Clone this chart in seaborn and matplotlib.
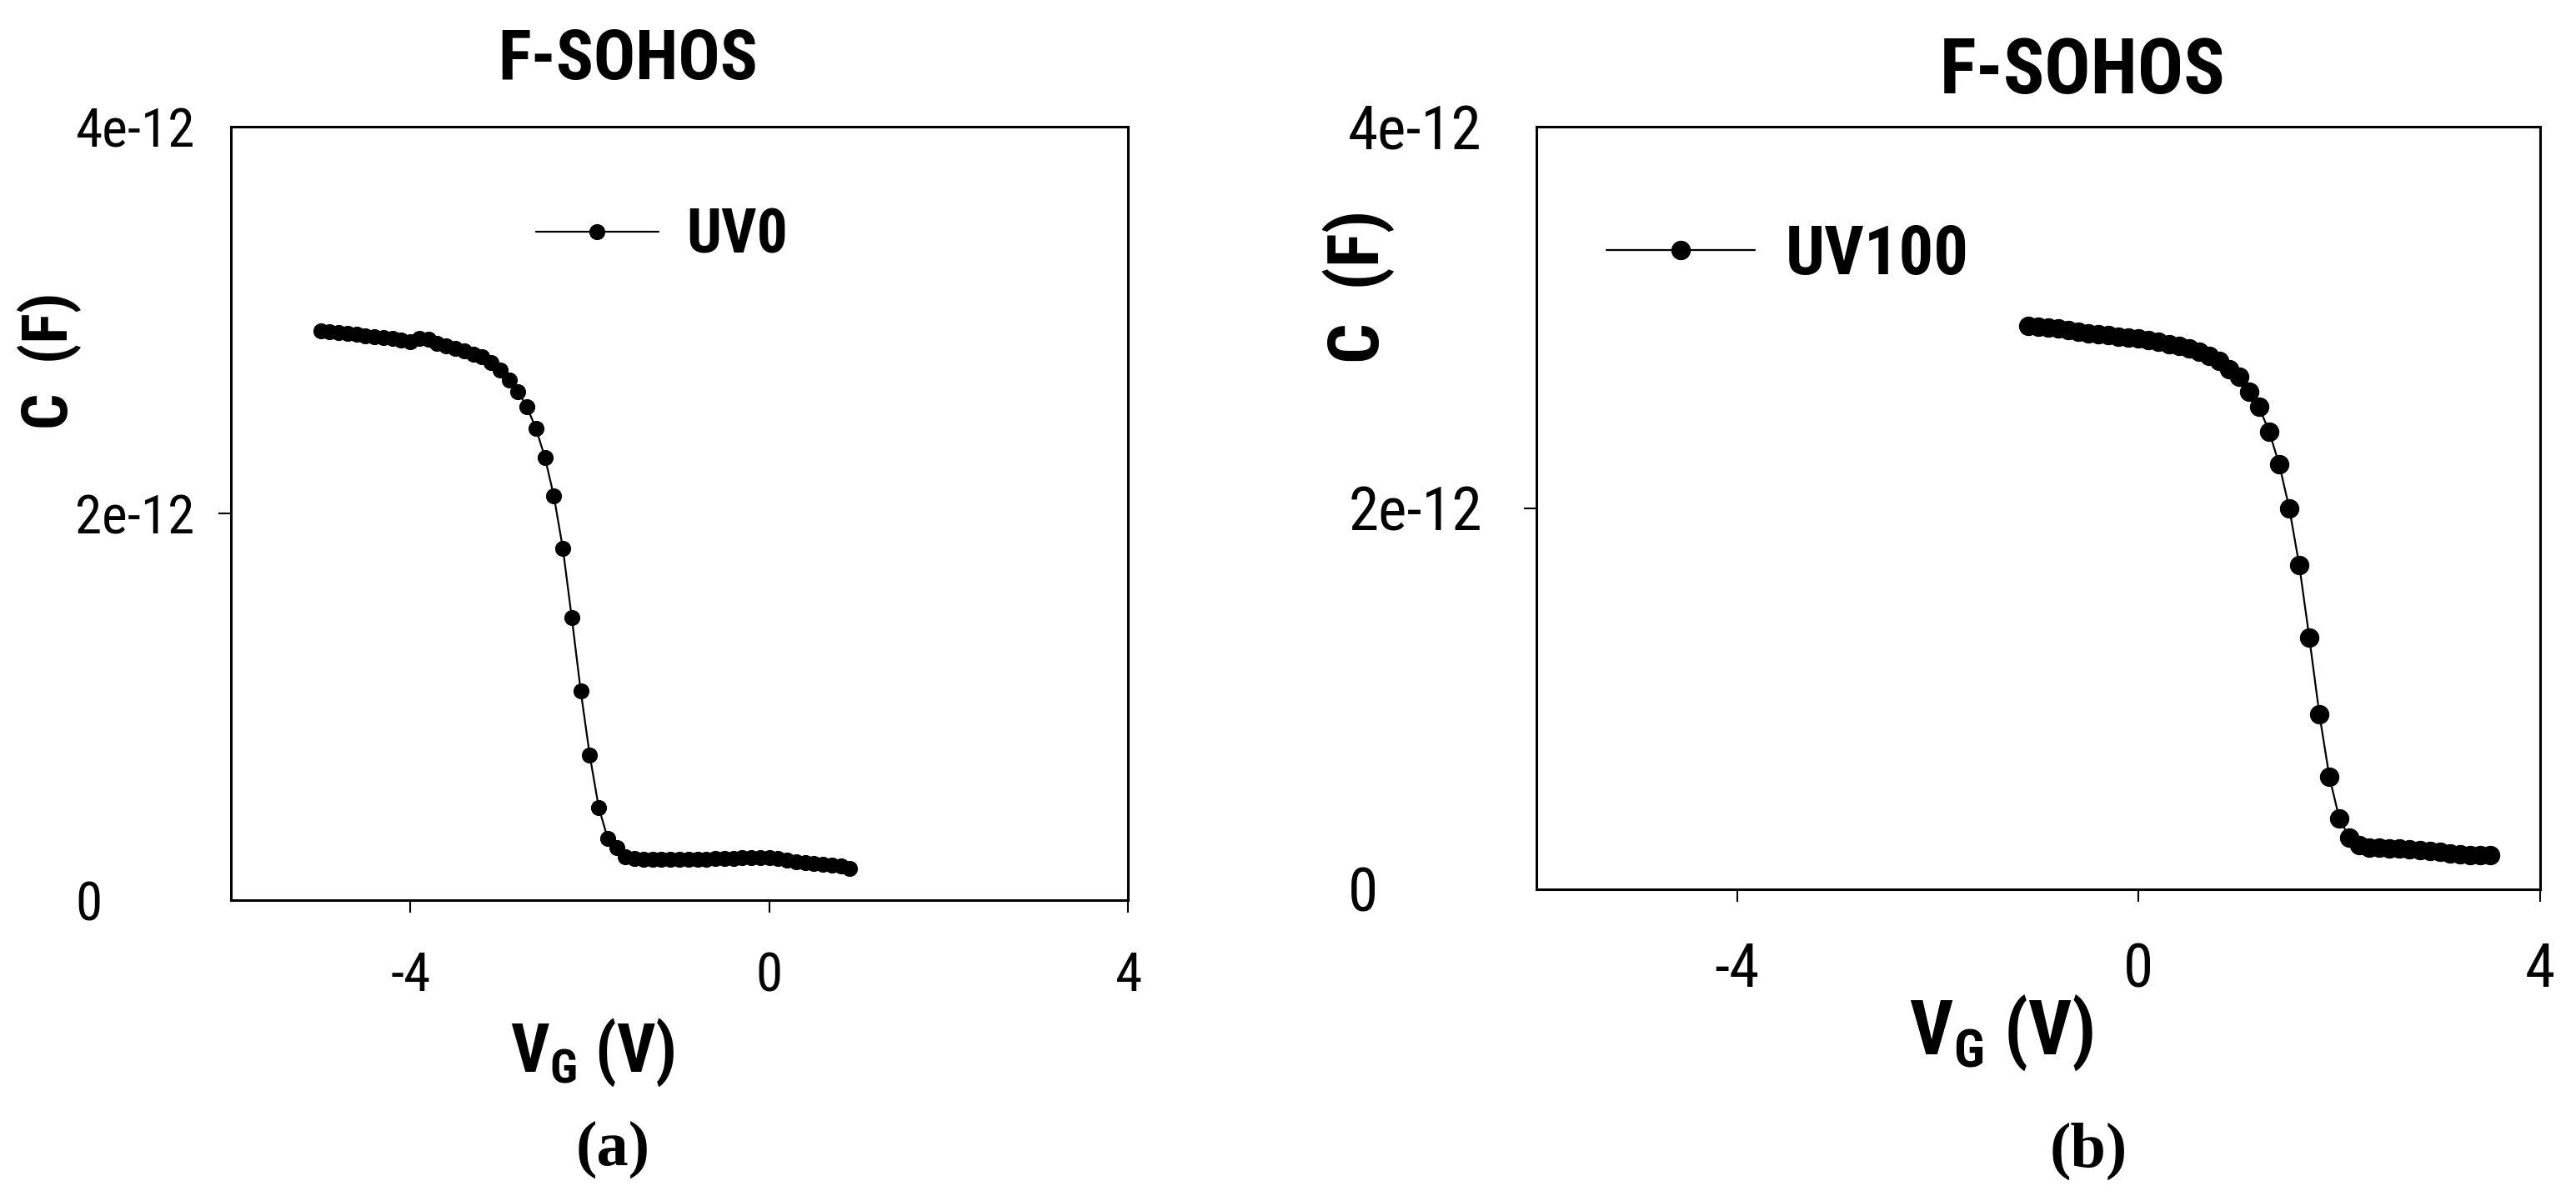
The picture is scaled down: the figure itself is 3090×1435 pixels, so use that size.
"""
C-V curves of the F-SOHOS capacitor before (UV0) and after (UV100) UV exposure.
"""

import matplotlib.pyplot as plt
import pandas as pd
import seaborn as sns
from matplotlib import font_manager

# Gate voltage (V) and capacitance (F)
VG_UV0 = [-5.0, -4.9, -4.8, -4.7, -4.6, -4.5, -4.4, -4.3, -4.2, -4.1,
          -4.0, -3.9, -3.8, -3.7, -3.6, -3.5, -3.4, -3.3, -3.2, -3.1,
          -3.0, -2.9, -2.8, -2.7, -2.6, -2.5, -2.4, -2.3, -2.2, -2.1,
          -2.0, -1.9, -1.8, -1.7, -1.6, -1.5, -1.4, -1.3, -1.2, -1.1,
          -1.0, -0.9, -0.8, -0.7, -0.6, -0.5, -0.4, -0.3, -0.2, -0.1,
          0.0, 0.1, 0.2, 0.3, 0.4, 0.5, 0.6, 0.7, 0.8, 0.9]
C_UV0 = [2.945, 2.940, 2.935, 2.930, 2.925, 2.920, 2.915, 2.910, 2.905, 2.895,
         2.890, 2.905, 2.900, 2.880, 2.865, 2.855, 2.840, 2.825, 2.810, 2.780,
         2.740, 2.690, 2.630, 2.550, 2.440, 2.290, 2.090, 1.820, 1.460, 1.080,
         0.750, 0.480, 0.320, 0.270, 0.225, 0.215, 0.210, 0.210, 0.210, 0.210,
         0.210, 0.210, 0.212, 0.212, 0.215, 0.215, 0.215, 0.218, 0.220, 0.220,
         0.220, 0.215, 0.205, 0.200, 0.192, 0.188, 0.185, 0.180, 0.175, 0.165]

VG_UV100 = [-1.1, -1.0, -0.9, -0.8, -0.7, -0.6, -0.5, -0.4, -0.3, -0.2,
            -0.1, 0.0, 0.1, 0.2, 0.3, 0.4, 0.5, 0.6, 0.7, 0.8,
            0.9, 1.0, 1.1, 1.2, 1.3, 1.4, 1.5, 1.6, 1.7, 1.8,
            1.9, 2.0, 2.1, 2.2, 2.3, 2.4, 2.5, 2.6, 2.7, 2.8,
            2.9, 3.0, 3.1, 3.2, 3.3, 3.4, 3.5]
C_UV100 = [2.955, 2.950, 2.945, 2.940, 2.935, 2.925, 2.915, 2.910, 2.905, 2.900,
           2.895, 2.890, 2.880, 2.870, 2.860, 2.850, 2.835, 2.820, 2.800, 2.770,
           2.730, 2.690, 2.610, 2.530, 2.400, 2.230, 2.000, 1.700, 1.320, 0.920,
           0.590, 0.370, 0.270, 0.230, 0.220, 0.220, 0.215, 0.215, 0.210, 0.205,
           0.200, 0.195, 0.190, 0.185, 0.180, 0.180, 0.180]

X_TICKS = [-4, 0, 4]
Y_TICKS = [0, 2e-12, 4e-12]
Y_TICK_LABELS = ["0", "2e-12", "4e-12"]
TITLE = "F-SOHOS"

sns.set_style("ticks")
available = {f.name for f in font_manager.fontManager.ttflist}
narrow = [n for n in ("Liberation Sans Narrow", "Roboto Condensed", "Arial Narrow")
          if n in available]
SANS = narrow[0] if narrow else "Liberation Sans"
# the reference text is set in a condensed face; shrink a bit when only the
# regular width is around so the words keep roughly the same footprint
FS = 1.0 if narrow else 0.89

plt.rcParams["font.family"] = [SANS, "DejaVu Sans"]
plt.rcParams["mathtext.fontset"] = "custom"
plt.rcParams["mathtext.rm"] = SANS
plt.rcParams["mathtext.bf"] = f"{SANS}:bold"
for key in ("text.color", "axes.labelcolor", "xtick.color", "ytick.color",
            "xtick.labelcolor", "ytick.labelcolor", "axes.edgecolor"):
    plt.rcParams[key] = "black"


def draw_panel(ax, vg, cap, label, s, msize, legend_at, ylabel_at, xlabel_at,
               ypad, xpad):
    df = pd.DataFrame({"VG": vg, "C": [c * 1e-12 for c in cap]})
    sns.lineplot(data=df, x="VG", y="C", ax=ax, color="black", linewidth=1.6,
                 marker="o", markersize=msize, markeredgecolor="black",
                 markeredgewidth=0.8, markerfacecolor="black", label=label)

    ax.set_xlim(-6, 4)
    ax.set_ylim(0, 4e-12)
    ax.set_xticks(X_TICKS)
    ax.set_xticklabels([str(t) for t in X_TICKS])
    ax.set_yticks(Y_TICKS)
    ax.set_yticklabels(Y_TICK_LABELS)
    for lbl in ax.get_yticklabels():
        lbl.set_horizontalalignment("left")

    ax.tick_params(axis="both", direction="out", length=10.5, width=1.5,
                   labelsize=47 * s * FS, colors="black")
    ax.tick_params(axis="y", pad=ypad)
    ax.tick_params(axis="x", pad=xpad)
    yt = ax.yaxis.get_major_ticks()
    yt[0].tick1line.set_visible(False)
    yt[2].tick1line.set_visible(False)

    for sp in ax.spines.values():
        sp.set_linewidth(2.2)
        sp.set_color("black")

    ax.set_ylabel("C  (F)", fontsize=55 * s * FS, fontweight="bold")
    ax.yaxis.set_label_coords(*ylabel_at)
    ax.set_xlabel(r"V$_\mathbf{G}$ (V)", fontsize=58 * s * FS, fontweight="bold")
    ax.xaxis.set_label_coords(*xlabel_at)

    ax.legend(loc="center left", bbox_to_anchor=legend_at, frameon=False,
              borderpad=0, borderaxespad=0,
              handlelength=(2.0 if s < 1.05 else 2.15) / FS,
              handletextpad=0.45 / FS,
              prop={"family": [SANS], "weight": "bold", "size": 53 * s * FS})


fig = plt.figure(figsize=(30.9, 14.35), dpi=100)
W, H = 3090, 1435
ax_a = fig.add_axes([277 / W, (H - 1080) / H, 1076 / W, 928 / H])
ax_b = fig.add_axes([1843 / W, (H - 1067) / H, 1204 / W, 915 / H])

draw_panel(ax_a, VG_UV0, C_UV0, "UV0", 1.0, 13,
           legend_at=(0.340, 0.858), ylabel_at=(-0.166, 0.697),
           xlabel_at=(0.403, -0.150), ypad=124, xpad=33)
draw_panel(ax_b, VG_UV100, C_UV100, "UV100", 1.12, 16,
           legend_at=(0.070, 0.831), ylabel_at=(-0.141, 0.79),
           xlabel_at=(0.463, -0.136), ypad=152, xpad=35)

fig.text(753 / W, (H - 95) / H, TITLE, ha="center", va="baseline",
         fontsize=60 * FS, fontweight="bold")
fig.text(2498 / W, (H - 112) / H, TITLE, ha="center", va="baseline",
         fontsize=66 * FS, fontweight="bold")

fig.text(735 / W, (H - 1398) / H, "(a)", ha="center", va="baseline",
         fontsize=55, fontweight="bold", family=["Liberation Serif"])
fig.text(2505 / W, (H - 1400) / H, "(b)", ha="center", va="baseline",
         fontsize=55, fontweight="bold", family=["Liberation Serif"])

fig.savefig("out.png", dpi=100, facecolor="white")
